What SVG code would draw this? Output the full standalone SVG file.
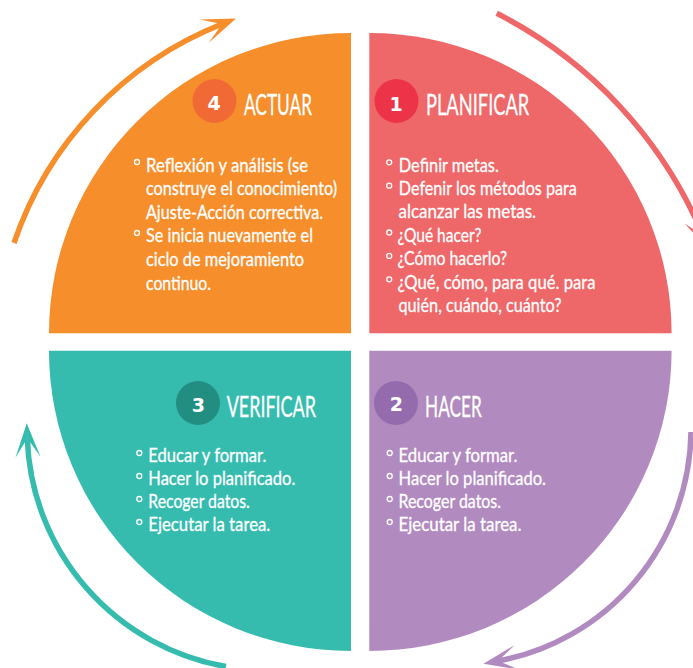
<svg xmlns="http://www.w3.org/2000/svg" width="693" height="668" viewBox="0 0 693 668">
  <style>
    .body { font-family: Lato, "Liberation Sans", sans-serif; font-size: 18.8px; fill: #ffffff; stroke: #ffffff; stroke-width: 0.3; }
    .title { font-family: Lato, "Liberation Sans", sans-serif; font-size: 28px; fill: #ffffff; stroke: #ffffff; stroke-width: 0.3; }
    .num { font-family: "DejaVu Sans", "Liberation Sans", sans-serif; font-weight: bold; font-size: 19px; fill: #ffffff; text-anchor: middle; }
    .bullet { fill: none; stroke: #ffffff; stroke-width: 1.3; }
    .arrow { fill: none; stroke-width: 5.5; stroke-linecap: butt; }
  </style>
  <defs>
    <marker id="ah-orange" markerUnits="userSpaceOnUse" viewBox="-36 -15 40 30" markerWidth="40" markerHeight="30" refX="-15" refY="0" orient="auto" overflow="visible">
      <path d="M0,0 L-34,-12.5 L-15,0 L-34,12.5 Z" fill="#F68E2B"/>
    </marker>
    <marker id="ah-red" markerUnits="userSpaceOnUse" viewBox="-36 -15 40 30" markerWidth="40" markerHeight="30" refX="-15" refY="0" orient="auto" overflow="visible">
      <path d="M0,0 L-34,-12.5 L-15,0 L-34,12.5 Z" fill="#EF6869"/>
    </marker>
    <marker id="ah-purple" markerUnits="userSpaceOnUse" viewBox="-36 -15 40 30" markerWidth="40" markerHeight="30" refX="-15" refY="0" orient="auto" overflow="visible">
      <path d="M0,0 L-34,-12.5 L-15,0 L-34,12.5 Z" fill="#B18ABF"/>
    </marker>
    <marker id="ah-teal" markerUnits="userSpaceOnUse" viewBox="-36 -15 40 30" markerWidth="40" markerHeight="30" refX="-15" refY="0" orient="auto" overflow="visible">
      <path d="M0,0 L-34,-12.5 L-15,0 L-34,12.5 Z" fill="#35BCAE"/>
    </marker>
  </defs>
  <rect x="0" y="0" width="693" height="668" fill="#ffffff"/>

  <g id="connectors">
    <path class="arrow" stroke="#F68E2B" d="M14,243 A360,360 0 0 1 222,24" marker-end="url(#ah-orange)"/>
    <path class="arrow" stroke="#EF6869" d="M496.7,13.3 A440,440 0 0 1 703.3,236" marker-end="url(#ah-red)"/>
    <path class="arrow" stroke="#B18ABF" d="M691,432 A236,236 0 0 1 498.2,660.9" marker-end="url(#ah-purple)"/>
    <path class="arrow" stroke="#35BCAE" d="M226,666.5 A240,240 0 0 1 27.3,438.3" marker-end="url(#ah-teal)"/>
  </g>

  <g id="node-actuar">
    <path d="M351,333.3 L49,333.3 A302,300.3 0 0 1 351,33 Z" fill="#F68E2B"/>
    <circle cx="214.5" cy="101" r="22" fill="#F16A35"/>
    <text class="num" x="214" y="110">4</text>
    <text class="title" x="244" y="115" textLength="68" lengthAdjust="spacingAndGlyphs">ACTUAR</text>
    <circle class="bullet" cx="137" cy="162" r="2.5"/>
    <text class="body" x="146" y="171.5" textLength="162" lengthAdjust="spacingAndGlyphs">Reflexión y análisis (se</text>
    <text class="body" x="146" y="195.1" textLength="191" lengthAdjust="spacingAndGlyphs">construye el conocimiento)</text>
    <text class="body" x="146" y="218.7" textLength="177" lengthAdjust="spacingAndGlyphs">Ajuste-Acción correctiva.</text>
    <circle class="bullet" cx="137" cy="233" r="2.5"/>
    <text class="body" x="146" y="242.3" textLength="167" lengthAdjust="spacingAndGlyphs">Se inicia nuevamente el</text>
    <text class="body" x="146" y="265.9" textLength="158" lengthAdjust="spacingAndGlyphs">ciclo de mejoramiento</text>
    <text class="body" x="146" y="289.5" textLength="65" lengthAdjust="spacingAndGlyphs">continuo.</text>
  </g>

  <g id="node-planificar">
    <path d="M369.3,333.3 L369.3,33 A302.3,300.3 0 0 1 671.6,333.3 Z" fill="#EF6869"/>
    <circle cx="396.5" cy="101" r="22" fill="#EC3347"/>
    <text class="num" x="396" y="110.5">1</text>
    <text class="title" x="426" y="115" textLength="103.3" lengthAdjust="spacingAndGlyphs">PLANIFICAR</text>
    <circle class="bullet" cx="389.2" cy="162.3" r="2.5"/>
    <text class="body" x="398.8" y="171.5" textLength="100" lengthAdjust="spacingAndGlyphs">Definir metas.</text>
    <circle class="bullet" cx="389.2" cy="185.7" r="2.5"/>
    <text class="body" x="398.8" y="194.9" textLength="178" lengthAdjust="spacingAndGlyphs">Defenir los métodos para</text>
    <text class="body" x="398.5" y="218.3" textLength="137.5" lengthAdjust="spacingAndGlyphs">alcanzar las metas.</text>
    <circle class="bullet" cx="389.2" cy="232.5" r="2.5"/>
    <text class="body" x="397.5" y="241.7" textLength="84" lengthAdjust="spacingAndGlyphs">¿Qué hacer?</text>
    <circle class="bullet" cx="389.2" cy="255.9" r="2.5"/>
    <text class="body" x="397.5" y="265.1" textLength="109.5" lengthAdjust="spacingAndGlyphs">¿Cómo hacerlo?</text>
    <circle class="bullet" cx="389.2" cy="279.3" r="2.5"/>
    <text class="body" x="397.5" y="288.5" textLength="198" lengthAdjust="spacingAndGlyphs">¿Qué, cómo, para qué. para</text>
    <text class="body" x="398.5" y="311.9" textLength="163" lengthAdjust="spacingAndGlyphs">quién, cuándo, cuánto?</text>
  </g>

  <g id="node-verificar">
    <path d="M351,350.7 L351,651 A302,300.3 0 0 1 49,350.7 Z" fill="#35BCAE"/>
    <circle cx="198" cy="403" r="22" fill="#218E81"/>
    <text class="num" x="198.3" y="411.5">3</text>
    <text class="title" x="226.7" y="416.7" textLength="89.3" lengthAdjust="spacingAndGlyphs">VERIFICAR</text>
    <circle class="bullet" cx="139.3" cy="453" r="2.5"/>
    <text class="body" x="148.3" y="462.3" textLength="118" lengthAdjust="spacingAndGlyphs">Educar y formar.</text>
    <circle class="bullet" cx="139.3" cy="476" r="2.5"/>
    <text class="body" x="148.3" y="485.3" textLength="147" lengthAdjust="spacingAndGlyphs">Hacer lo planificado.</text>
    <circle class="bullet" cx="139.3" cy="499" r="2.5"/>
    <text class="body" x="148.3" y="508.3" textLength="101.5" lengthAdjust="spacingAndGlyphs">Recoger datos.</text>
    <circle class="bullet" cx="139.3" cy="522" r="2.5"/>
    <text class="body" x="148.3" y="531.3" textLength="122" lengthAdjust="spacingAndGlyphs">Ejecutar la tarea.</text>
  </g>

  <g id="node-hacer">
    <path d="M369.3,350.7 L671.6,350.7 A302.3,300.3 0 0 1 369.3,651 Z" fill="#B18ABF"/>
    <circle cx="396" cy="403" r="22" fill="#946CAD"/>
    <text class="num" x="396.3" y="411">2</text>
    <text class="title" x="425" y="416.7" textLength="56.7" lengthAdjust="spacingAndGlyphs">HACER</text>
    <circle class="bullet" cx="389.7" cy="453" r="2.5"/>
    <text class="body" x="398.5" y="462.3" textLength="119" lengthAdjust="spacingAndGlyphs">Educar y formar.</text>
    <circle class="bullet" cx="389.7" cy="476" r="2.5"/>
    <text class="body" x="398.5" y="485.3" textLength="147.5" lengthAdjust="spacingAndGlyphs">Hacer lo planificado.</text>
    <circle class="bullet" cx="389.7" cy="499" r="2.5"/>
    <text class="body" x="398.5" y="508.3" textLength="102.5" lengthAdjust="spacingAndGlyphs">Recoger datos.</text>
    <circle class="bullet" cx="389.7" cy="522" r="2.5"/>
    <text class="body" x="398.5" y="531.3" textLength="123" lengthAdjust="spacingAndGlyphs">Ejecutar la tarea.</text>
  </g>
</svg>
